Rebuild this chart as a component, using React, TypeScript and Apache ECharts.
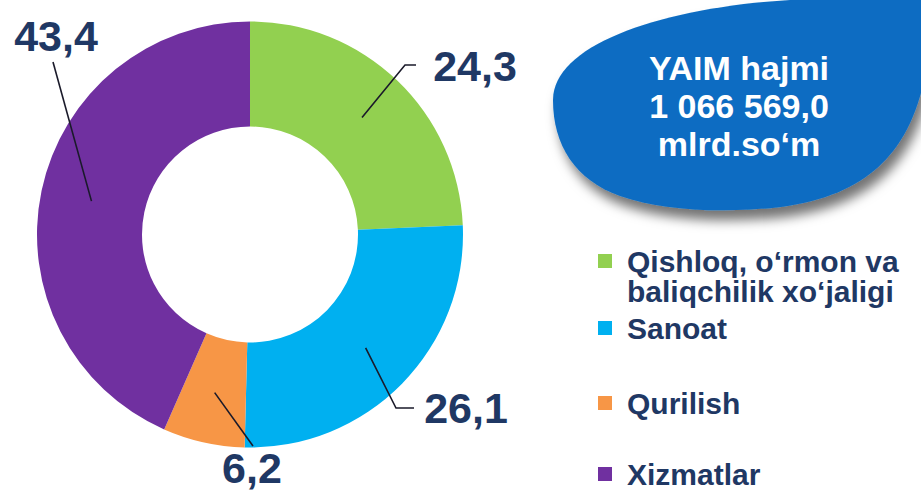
import React, { useEffect, useRef } from 'react';
import * as echarts from 'echarts';

// ---- data ----
const categories = [
  'Qishloq, o‘rmon va\nbaliqchilik xo‘jaligi',
  'Sanoat',
  'Qurilish',
  'Xizmatlar',
];
const shares = [24.3, 26.1, 6.2, 43.4];
const sliceColors = ['#92d050', '#00b0f0', '#f79646', '#7030a0'];
const headline = ['YAIM hajmi', '1 066 569,0', 'mlrd.so‘m'];

// ---- layout / style ----
const W = 921;
const H = 493;
const CX = 250;
const CY = 234.5;
const R_IN = 108;
const R_OUT = 213;
const FONT = '"Liberation Sans", Arial, sans-serif';
const NAVY = '#1f3864';
const labelPos = [
  [475, 66],
  [466, 408],
  [252, 468],
  [56, 36],
];
const lineBends = [
  [[405, 65], [416, 65]],
  [[396, 408], [414, 408]],
  [[253, 446], [253, 446]],
  [[53, 62], [53, 62]],
];
const legendIconY = [261, 328, 403, 474];
const LEGEND_LH = 30;
const LEGEND_FS = 30;

const blobPath =
  'M553 100 C553 45 660 8 790 0 L921 0 L921 93 C905 150 870 195 781 207 C720 214 660 210 620 196 C575 180 553 145 553 100 Z';

let registered = false;
function ensureShapes() {
  if (registered) return;
  echarts.graphic.registerShape('blob', echarts.graphic.extendPath(blobPath, {}));
  registered = true;
}

export default function App() {
  const ref = useRef<HTMLDivElement>(null);

  useEffect(() => {
    if (!ref.current) return;
    ensureShapes();
    const chart = echarts.init(ref.current, undefined, { renderer: 'svg', width: W, height: H });
    const total = shares.reduce((a, b) => a + b, 0);
    const pieData = categories.map((name, i) => ({ name, value: shares[i] }));

    const legends = categories.map((name, i) => {
      const lines = name.split('\n').length;
      const multi = lines > 1;
      const boxH = multi ? LEGEND_LH * (lines + 1) : LEGEND_LH;
      return {
        show: true,
        data: [name],
        orient: 'vertical',
        left: 598,
        top: legendIconY[i] - boxH / 2,
        padding: 0,
        itemWidth: 14,
        itemHeight: 14,
        icon: 'rect',
        selectedMode: false,
        formatter: (n: string) => {
          const body = n
            .split('\n')
            .map((l) => `{t|${l}}`)
            .join('\n');
          return multi ? `{t|}\n${body}` : body;
        },
        textStyle: {
          color: NAVY,
          fontWeight: 'bold',
          fontSize: LEGEND_FS,
          fontFamily: FONT,
          lineHeight: LEGEND_LH,
          rich: {
            t: {
              color: NAVY,
              fontWeight: 'bold',
              fontSize: LEGEND_FS,
              fontFamily: FONT,
              lineHeight: LEGEND_LH,
              height: LEGEND_LH,
              padding: [0, 0, 0, 10],
            },
          },
        },
      };
    });

    const labelLayout = (p: any) => {
      const i = p.dataIndex;
      let before = 0;
      for (let k = 0; k < i; k++) before += shares[k];
      const mid = ((90 - ((before + shares[i] / 2) / total) * 360) * Math.PI) / 180;
      const rm = (R_IN + R_OUT) / 2 + 1.5;
      const sx = CX + rm * Math.cos(mid);
      const sy = CY - rm * Math.sin(mid);
      return {
        x: labelPos[i][0],
        y: labelPos[i][1],
        align: 'center',
        verticalAlign: 'middle',
        labelLinePoints: [[sx, sy], lineBends[i][0], lineBends[i][1]],
      };
    };

    chart.setOption({
      animation: false,
      color: sliceColors,
      legend: legends,
      graphic: [
        {
          type: 'blob',
          z: 1,
          style: {
            fill: '#0b6cc2',
            shadowBlur: 12,
            shadowColor: 'rgba(0,0,0,0.55)',
            shadowOffsetX: 5,
            shadowOffsetY: 10,
          },
        },
        {
          type: 'text',
          z: 2,
          x: 739,
          y: 106,
          style: {
            text: headline.join('\n'),
            fill: '#ffffff',
            font: `bold 34px ${FONT}`,
            align: 'center',
            verticalAlign: 'middle',
            textAlign: 'center',
            textVerticalAlign: 'middle',
            lineHeight: 38,
          },
        },
      ],
      series: [
        {
          type: 'pie',
          z: 2,
          center: [CX, CY],
          radius: [R_IN, R_OUT],
          startAngle: 90,
          clockwise: true,
          silent: true,
          data: pieData,
          label: { show: false },
          labelLine: { show: false },
        },
        {
          type: 'pie',
          z: 3,
          center: [CX, CY],
          radius: [R_IN, R_OUT],
          startAngle: 90,
          clockwise: true,
          avoidLabelOverlap: false,
          silent: true,
          data: pieData,
          itemStyle: { color: 'rgba(0,0,0,0)' },
          label: {
            show: true,
            position: 'outside',
            formatter: (p: any) => Number(p.value).toFixed(1).replace('.', ','),
            color: NAVY,
            fontSize: 43,
            fontWeight: 'bold',
            fontFamily: FONT,
          },
          labelLine: {
            show: true,
            lineStyle: { color: '#1a1a2a', width: 1.6 },
          },
          labelLayout,
        },
      ],
    });

    return () => chart.dispose();
  }, []);

  return (
    <div
      ref={ref}
      style={{ position: 'fixed', left: 0, top: 0, width: W, height: H, background: '#ffffff' }}
    />
  );
}
